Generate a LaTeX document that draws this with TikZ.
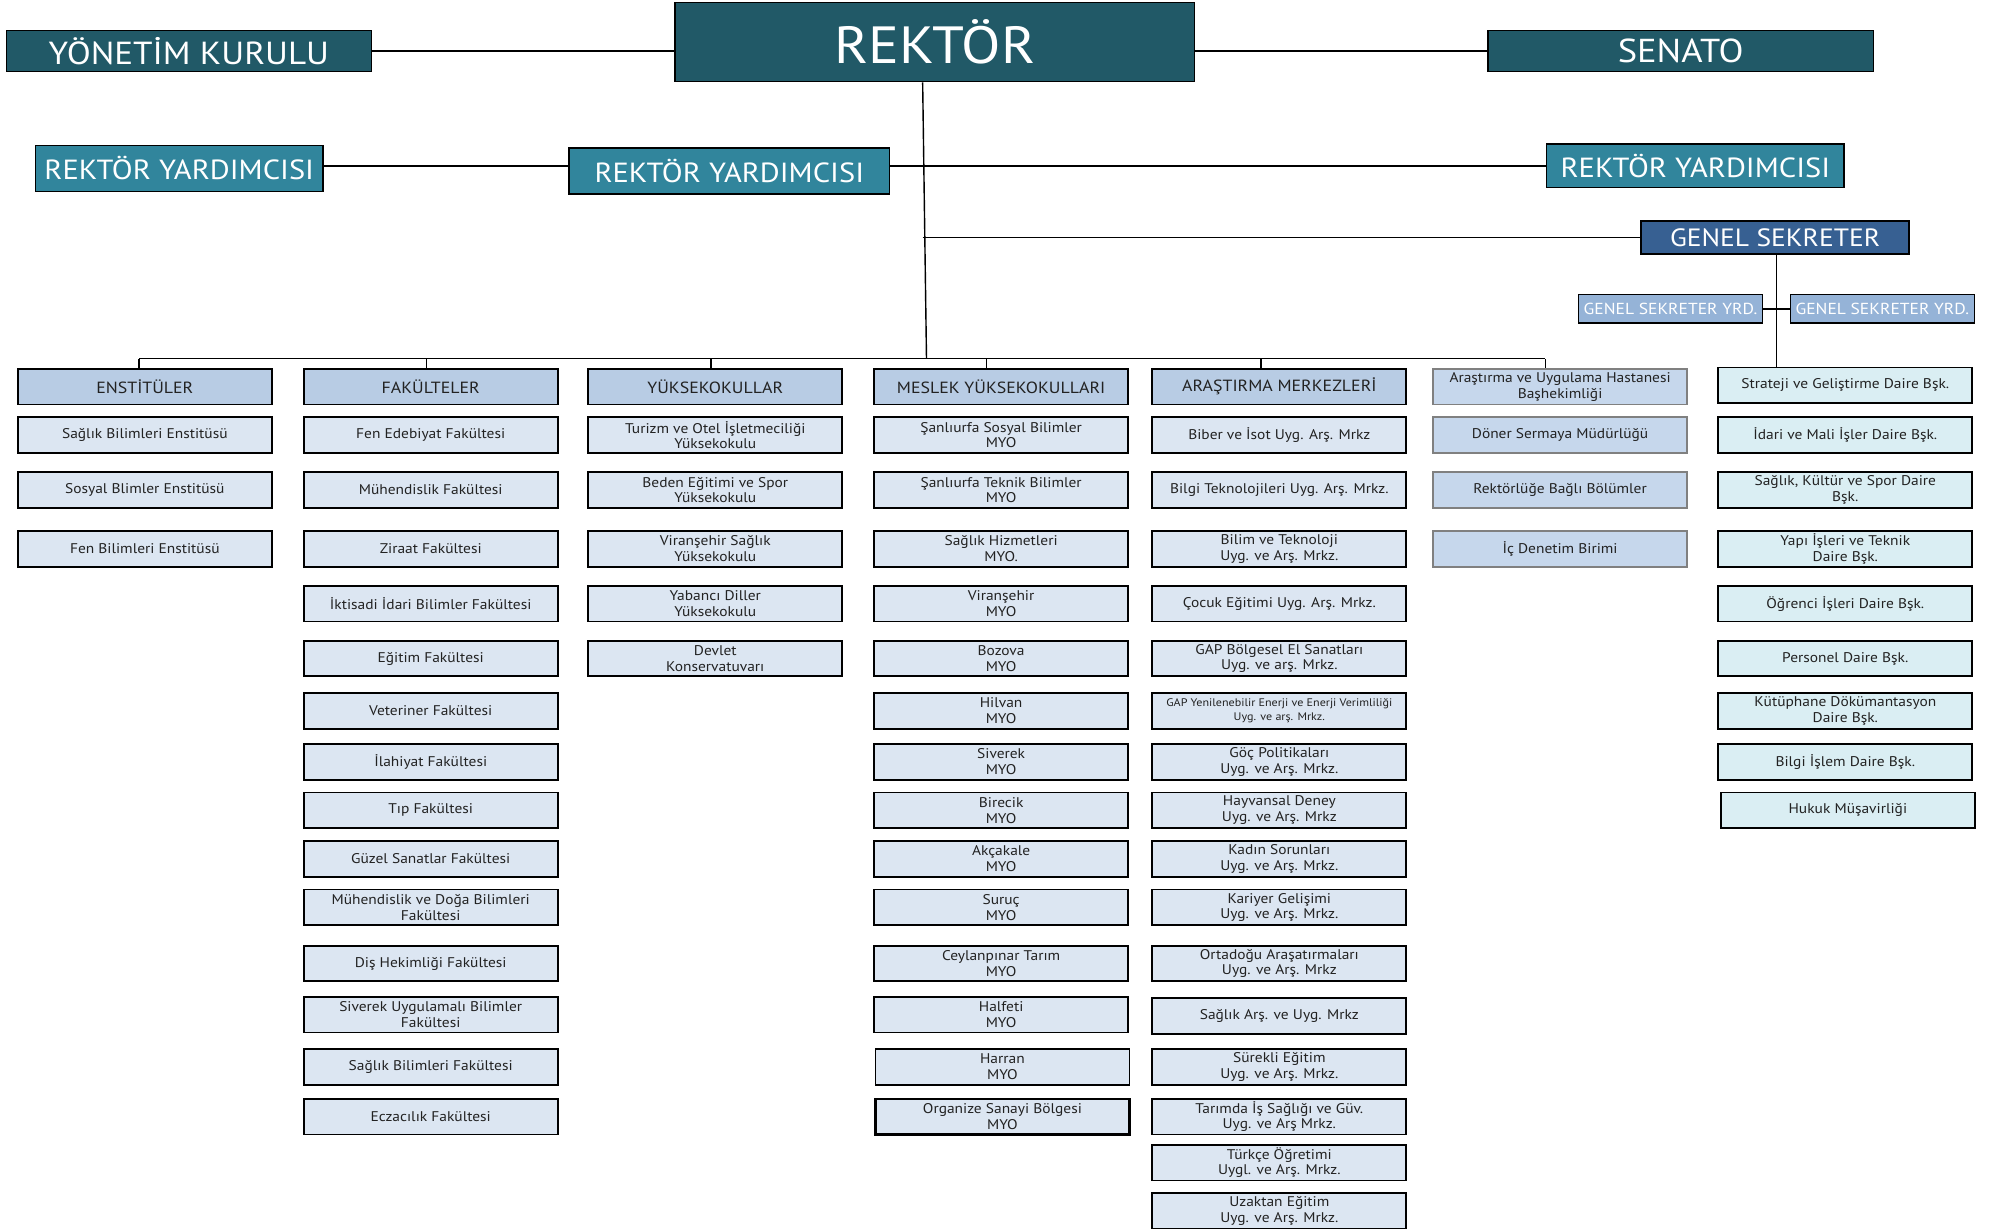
\documentclass[tikz,border=0pt]{standalone}
\usepackage{fontspec}
\setmainfont{PT Sans}[FakeStretch=1.1]
\usetikzlibrary{calc}
\definecolor{darkteal}{HTML}{215967}
\definecolor{midteal}{HTML}{31859C}
\definecolor{gsblue}{HTML}{376092}
\definecolor{gsyfill}{HTML}{95B3D7}
\definecolor{hdrfill}{HTML}{B8CCE4}
\definecolor{entfill}{HTML}{DCE6F2}
\definecolor{gsixfill}{HTML}{C6D7EC}
\definecolor{gsixdraw}{HTML}{808080}
\definecolor{gsevfill}{HTML}{DAEEF3}
\definecolor{txt}{HTML}{222222}
\newcommand{\entfont}{\fontsize{11}{12.3}\selectfont}
\newcommand{\hdrfont}{\fontsize{12.7}{14}\selectfont}
\tikzset{
  basebox/.style={draw=black, line width=1.4pt, inner sep=0pt, align=center, text=txt},
  ent/.style={basebox, fill=entfill, minimum width=199pt, minimum height=28pt, font=\entfont},
  hdr/.style={ent, fill=hdrfill, font=\hdrfont},
  gsix/.style={ent, fill=gsixfill, draw=gsixdraw},
  gsev/.style={ent, fill=gsevfill},
  topbox/.style={draw=black, line width=1.2pt, fill=darkteal, text=white, inner sep=0pt},
  rybox/.style={draw=black, line width=1.2pt, fill=midteal, text=white, inner sep=0pt, font=\fontsize{21.7}{24}\selectfont},
  conn/.style={draw=black, line width=1.1pt},
}
\begin{document}
\begin{tikzpicture}[x=1pt, y=-1pt]
\useasboundingbox (0,0) rectangle (1568,963);
% top level
\node[topbox, minimum width=286pt, minimum height=32pt, font=\fontsize{25}{28}\selectfont] (yk) at (148,40) {YÖNETİM KURULU};
\node[topbox, minimum width=407pt, minimum height=62pt, font=\fontsize{41}{44}\selectfont] (rektor) at (732.5,33) {REKTÖR};
\node[topbox, minimum width=302pt, minimum height=32pt, font=\fontsize{26}{28}\selectfont] (senato) at (1317,40) {SENATO};
\node[rybox, minimum width=225pt, minimum height=36pt] (ry1) at (140.5,132) {REKTÖR YARDIMCISI};
\node[rybox, minimum width=251pt, minimum height=36pt] (ry2) at (571.5,134) {REKTÖR YARDIMCISI};
\node[rybox, minimum width=233pt, minimum height=34pt] (ry3) at (1328.5,130) {REKTÖR YARDIMCISI};
\node[draw=black, line width=1.2pt, fill=gsblue, text=white, inner sep=0pt, minimum width=210pt, minimum height=26pt, font=\fontsize{19.6}{22}\selectfont] (gs) at (1391,186) {GENEL SEKRETER};
\node[draw=black, line width=1pt, fill=gsyfill, text=white, inner sep=0pt, minimum width=144pt, minimum height=22pt, font=\fontsize{12.5}{14}\selectfont] (gsy1) at (1309,242) {GENEL SEKRETER YRD.};
\node[draw=black, line width=1pt, fill=gsyfill, text=white, inner sep=0pt, minimum width=144pt, minimum height=22pt, font=\fontsize{12.5}{14}\selectfont] (gsy2) at (1475,242) {GENEL SEKRETER YRD.};

% column headers
\node[hdr] (h1) at (113.5,303) {ENSTİTÜLER};
\node[hdr] (h2) at (337.5,303) {FAKÜLTELER};
\node[hdr] (h3) at (560.5,303) {YÜKSEKOKULLAR};
\node[hdr] (h4) at (784.5,303) {MESLEK YÜKSEKOKULLARI};
\node[hdr] (h5) at (1002.5,303) {ARAŞTIRMA MERKEZLERİ};
\node[gsix] (h6) at (1222.5,303) {Araştırma ve Uygulama Hastanesi\\Başhekimliği};
\node[gsev] (h7) at (1446,302) {Strateji ve Geliştirme Daire Bşk.};

% column 1
\node[ent] (a1) at (113.5,341) {Sağlık Bilimleri Enstitüsü};
\node[ent] (a2) at (113.5,384) {Sosyal Blimler Enstitüsü};
\node[ent] (a3) at (113.5,430) {Fen Bilimleri Enstitüsü};

% column 2
\node[ent] (b1) at (337.5,341) {Fen Edebiyat Fakültesi};
\node[ent] (b2) at (337.5,384) {Mühendislik Fakültesi};
\node[ent] (b3) at (337.5,430) {Ziraat Fakültesi};
\node[ent] (b4) at (337.5,473) {İktisadi İdari Bilimler Fakültesi};
\node[ent] (b5) at (337.5,516) {Eğitim Fakültesi};
\node[ent] (b6) at (337.5,557) {Veteriner Fakültesi};
\node[ent] (b7) at (337.5,597) {İlahiyat Fakültesi};
\node[ent] (b8) at (337.5,635) {Tıp Fakültesi};
\node[ent] (b9) at (337.5,673) {Güzel Sanatlar Fakültesi};
\node[ent] (b10) at (337.5,711) {Mühendislik ve Doğa Bilimleri\\Fakültesi};
\node[ent] (b11) at (337.5,755) {Diş Hekimliği Fakültesi};
\node[ent] (b12) at (337.5,795) {Siverek Uygulamalı Bilimler\\Fakültesi};
\node[ent] (b13) at (337.5,836) {Sağlık Bilimleri Fakültesi};
\node[ent] (b14) at (337.5,875) {Eczacılık Fakültesi};

% column 3
\node[ent] (c1) at (560.5,341) {Turizm ve Otel İşletmeciliği\\Yüksekokulu};
\node[ent] (c2) at (560.5,384) {Beden Eğitimi ve Spor\\Yüksekokulu};
\node[ent] (c3) at (560.5,430) {Viranşehir Sağlık\\Yüksekokulu};
\node[ent] (c4) at (560.5,473) {Yabancı Diller\\Yüksekokulu};
\node[ent] (c5) at (560.5,516) {Devlet\\Konservatuvarı};

% column 4
\node[ent] (d1) at (784.5,341) {Şanlıurfa Sosyal Bilimler\\MYO};
\node[ent] (d2) at (784.5,384) {Şanlıurfa Teknik Bilimler\\MYO};
\node[ent] (d3) at (784.5,430) {Sağlık Hizmetleri\\MYO.};
\node[ent] (d4) at (784.5,473) {Viranşehir\\MYO};
\node[ent] (d5) at (784.5,516) {Bozova\\MYO};
\node[ent] (d6) at (784.5,557) {Hilvan\\MYO};
\node[ent] (d7) at (784.5,597) {Siverek\\MYO};
\node[ent] (d8) at (784.5,635) {Birecik\\MYO};
\node[ent] (d9) at (784.5,673) {Akçakale\\MYO};
\node[ent] (d10) at (784.5,711) {Suruç\\MYO};
\node[ent] (d11) at (784.5,755) {Ceylanpınar Tarım\\MYO};
\node[ent] (d12) at (784.5,795) {Halfeti\\MYO};
\node[ent] (d13) at (785.5,836) {Harran\\MYO};
\node[ent, line width=2pt] (d14) at (785.5,875) {Organize Sanayi Bölgesi\\MYO};

% column 5
\node[ent] (e1) at (1002.5,341) {Biber ve İsot Uyg. Arş. Mrkz};
\node[ent] (e2) at (1002.5,384) {Bilgi Teknolojileri Uyg. Arş. Mrkz.};
\node[ent] (e3) at (1002.5,430) {Bilim ve Teknoloji\\Uyg. ve Arş. Mrkz.};
\node[ent] (e4) at (1002.5,473) {Çocuk Eğitimi Uyg. Arş. Mrkz.};
\node[ent] (e5) at (1002.5,516) {GAP Bölgesel El Sanatları\\Uyg. ve arş. Mrkz.};
\node[ent, font=\fontsize{8.6}{10.5}\selectfont] (e6) at (1002.5,557) {GAP Yenilenebilir Enerji ve Enerji Verimliliği\\Uyg. ve arş. Mrkz.};
\node[ent] (e7) at (1002.5,597) {Göç Politikaları\\Uyg. ve Arş. Mrkz.};
\node[ent] (e8) at (1002.5,635) {Hayvansal Deney\\Uyg. ve Arş. Mrkz};
\node[ent] (e9) at (1002.5,673) {Kadın Sorunları\\Uyg. ve Arş. Mrkz.};
\node[ent] (e10) at (1002.5,711) {Kariyer Gelişimi\\Uyg. ve Arş. Mrkz.};
\node[ent] (e11) at (1002.5,755) {Ortadoğu Araşatırmaları\\Uyg. ve Arş. Mrkz};
\node[ent] (e12) at (1002.5,796) {Sağlık Arş. ve Uyg. Mrkz};
\node[ent] (e13) at (1002.5,836) {Sürekli Eğitim\\Uyg. ve Arş. Mrkz.};
\node[ent] (e14) at (1002.5,875) {Tarımda İş Sağlığı ve Güv.\\Uyg. ve Arş Mrkz.};
\node[ent] (e15) at (1002.5,911) {Türkçe Öğretimi\\Uygl. ve Arş. Mrkz.};
\node[ent] (e16) at (1002.5,949) {Uzaktan Eğitim\\Uyg. ve Arş. Mrkz.};

% column 6
\node[gsix] (f1) at (1222.5,341) {Döner Sermaya Müdürlüğü};
\node[gsix] (f2) at (1222.5,384) {Rektörlüğe Bağlı Bölümler};
\node[gsix] (f3) at (1222.5,430) {İç Denetim Birimi};

% column 7
\node[gsev] (g1) at (1446,341) {İdari ve Mali İşler Daire Bşk.};
\node[gsev] (g2) at (1446,384) {Sağlık, Kültür ve Spor Daire\\Bşk.};
\node[gsev] (g3) at (1446,430) {Yapı İşleri ve Teknik\\Daire Bşk.};
\node[gsev] (g4) at (1446,473) {Öğrenci İşleri Daire Bşk.};
\node[gsev] (g5) at (1446,516) {Personel Daire Bşk.};
\node[gsev] (g6) at (1446,557) {Kütüphane Dökümantasyon\\Daire Bşk.};
\node[gsev] (g7) at (1446,597) {Bilgi İşlem Daire Bşk.};
\node[gsev] (g8) at (1448,635) {Hukuk Müşavirliği};

% connectors
\coordinate (trunktop) at ($(rektor.south)+(-9.5,0)$);
\coordinate (busL) at (109,281);
\coordinate (busR) at (1211,281);
\coordinate (trunkbot) at (726,281);
\draw[conn] (yk.east) -- (yk.east -| rektor.west);
\draw[conn] (rektor.east |- senato.west) -- (senato.west);
\draw[conn] (trunktop) -- (trunkbot);
\draw[conn] (ry1.east |- ry3.west) -- (ry2.west |- ry3.west);
\draw[conn] (ry2.east |- ry3.west) -- (ry3.west);
\draw[conn] (trunktop |- gs.west) -- (gs.west);
\draw[conn] (gs.south -| 1392,0) -- (h7.north -| 1392,0);
\draw[conn] (gsy1.east) -- (gsy2.west);
\draw[conn] (busL) -- (busR);
\foreach \h/\dx in {h1/-4.5, h2/-3.5, h3/-3.5, h4/-11.5, h5/-14.5, h6/-11.5}{
  \draw[conn] ([xshift=\dx pt]\h.north) -- ([xshift=\dx pt]\h.north |- busL);
}
\end{tikzpicture}
\end{document}
